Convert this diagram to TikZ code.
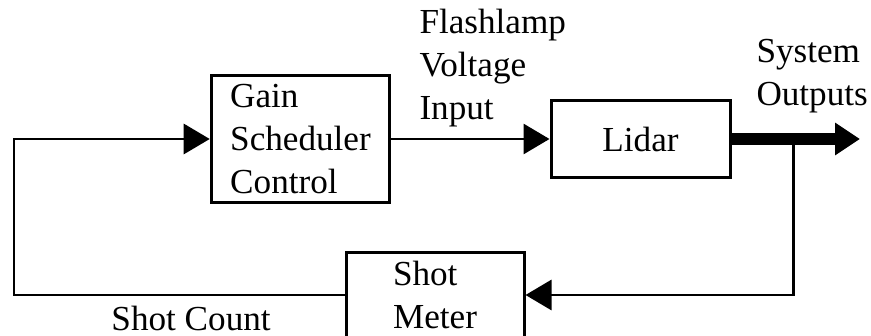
\documentclass[tikz,border=0pt]{standalone}
\usepackage{fontspec}
\setmainfont{Liberation Serif}
\usetikzlibrary{arrows.meta,positioning}

\begin{document}
\begin{tikzpicture}[>={Triangle[length=0.52cm,width=0.6cm]},line width=1.7pt,
    font=\fontsize{20}{24.5}\selectfont,
    block/.style={draw,align=left,inner xsep=0.38cm,inner ysep=0pt},
    lbl/.style={align=left,inner sep=0pt,anchor=base west}]
    \useasboundingbox (0,0) rectangle (17.42,6.70);

    \node[block,minimum width=3.54cm,minimum height=2.54cm] (gain) at (6.01,3.92) {Gain\\Scheduler\\Control};
    \node[block,align=center,minimum width=3.58cm,minimum height=1.54cm] (lidar) at (12.81,3.92) {Lidar};
    \node[block,minimum width=3.56cm,minimum height=1.70cm] (meter) at (8.70,0.80) {Shot\\Meter};

    \coordinate (tap) at (15.86,3.92);
    \coordinate (out) at (17.20,3.92);
    \coordinate (left) at (0.28,0.80);

    \draw[->] (gain) -- (lidar);
    \draw[line width=0.24cm,-{Triangle[length=0.5cm,width=0.62cm]}] (lidar) -- (out);
    \draw[->] (tap) |- (meter);
    \draw[->] (meter.west) -- (left) |- (gain);

    \node[lbl] (flashlbl) at (8.36,4.30) {Flashlamp\\Voltage\\Input};
    \node[lbl] (outlbl) at (15.10,4.58) {System\\Outputs};
    \node[lbl] (countlbl) at (2.20,0.10) {Shot Count};
\end{tikzpicture}
\end{document}
